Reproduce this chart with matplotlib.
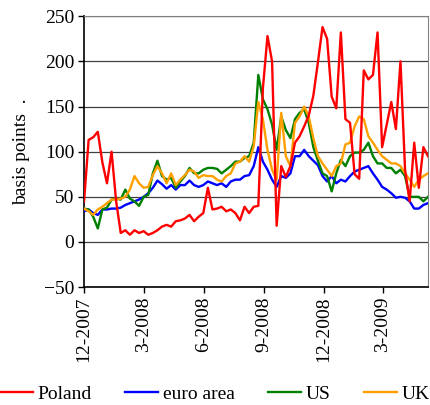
import pandas as pd
import numpy as np
import matplotlib.pyplot as plt

plt.rcParams['font.family'] = ['Liberation Serif', 'DejaVu Serif']

# weekly observations, Dec 2007 - May 2009
dates = pd.date_range('2007-12-01', periods=76, freq='7D')

poland = [45, 113, 116, 122, 88, 65, 100, 45, 10, 13,
          8, 13, 10, 12, 8, 10, 13, 17, 19, 17,
          23, 24, 26, 30, 23, 28, 32, 60, 36, 37,
          39, 34, 36, 32, 24, 39, 32, 39, 40, 170,
          228, 200, 18, 84, 72, 84, 110, 117, 128, 140,
          162, 199, 238, 225, 161, 148, 232, 136, 132, 75,
          70, 190, 180, 185, 232, 105, 130, 155, 125, 200,
          80, 45, 110, 60, 105, 95]

euro_area = [34, 36, 32, 30, 36, 36, 37, 37, 38, 41,
             43, 45, 47, 50, 54, 60, 68, 64, 59, 63,
             58, 63, 63, 68, 63, 61, 63, 67, 65, 63,
             65, 61, 67, 69, 69, 73, 74, 84, 105, 89,
             80, 69, 61, 73, 71, 76, 95, 95, 102, 95,
             90, 85, 73, 67, 73, 65, 69, 67, 73, 78,
             80, 82, 84, 76, 69, 61, 58, 54, 49, 50,
             49, 45, 37, 37, 41, 43]

us = [37, 36, 28, 15, 36, 38, 47, 48, 47, 58,
      48, 45, 40, 50, 52, 76, 90, 73, 69, 71,
      60, 67, 73, 82, 76, 76, 80, 82, 82, 81,
      76, 80, 84, 89, 89, 93, 95, 110, 185, 158,
      147, 130, 102, 139, 124, 115, 136, 143, 147, 132,
      105, 90, 76, 73, 56, 76, 91, 84, 95, 99,
      99, 102, 110, 95, 87, 87, 82, 82, 76, 80,
      73, 50, 50, 50, 45, 50]

uk = [37, 34, 30, 36, 39, 43, 47, 47, 48, 50,
      58, 73, 65, 60, 61, 74, 84, 76, 65, 76,
      63, 69, 74, 80, 78, 71, 74, 73, 73, 69,
      67, 73, 76, 87, 89, 95, 89, 106, 155, 136,
      102, 80, 69, 143, 95, 84, 132, 139, 150, 139,
      115, 95, 87, 80, 73, 84, 87, 108, 110, 128,
      139, 136, 117, 110, 102, 95, 91, 87, 87, 84,
      76, 69, 61, 69, 73, 76]

tick_dates = pd.to_datetime(['2007-12-01', '2008-03-01', '2008-06-01',
                             '2008-09-01', '2008-12-01', '2009-03-01'])
tick_labels = ['12-2007', '3-2008', '6-2008', '9-2008', '12-2008', '3-2009']

fig = plt.figure(figsize=(4.31, 4.05), dpi=100)
ax = fig.add_axes([0.195, 0.291, 0.798, 0.669])

ax.plot(dates, euro_area, color='#0000ff', lw=1.7, label='euro area', zorder=3)
ax.plot(dates, us, color='#008000', lw=1.7, label='US', zorder=4)
ax.plot(dates, uk, color='#ffa000', lw=1.7, label='UK', zorder=5)
ax.plot(dates, poland, color='#ff0000', lw=1.7, label='Poland', zorder=6)

ax.set_ylim(-50, 250)
ax.set_yticks(range(-50, 251, 50))
ax.set_xlim(dates[0], dates[-1])
ax.set_xticks(tick_dates)
ax.set_xticklabels(tick_labels, rotation=90)
ax.tick_params(axis='both', labelsize=14, direction='out', length=4, width=1,
               colors='black', pad=3)
ax.yaxis.grid(True, color='#404040', lw=0.9)
ax.set_axisbelow(True)

for s in ['top', 'right']:
    ax.spines[s].set_color('#808080')
ax.spines['left'].set_linewidth(1.2)
ax.spines['bottom'].set_linewidth(1.2)

ax.set_ylabel('basis points  .', fontsize=14, labelpad=10)

handles, labels = ax.get_legend_handles_labels()
order = [3, 0, 1, 2]
fig.legend([handles[i] for i in order], [labels[i] for i in order],
           loc='lower left', bbox_to_anchor=(-0.005, 0.0), ncol=4,
           frameon=False, fontsize=14, handlelength=1.7, handletextpad=0.25,
           columnspacing=1.7, borderpad=0.1, borderaxespad=0.0)

plt.savefig('out.png', dpi=100)
